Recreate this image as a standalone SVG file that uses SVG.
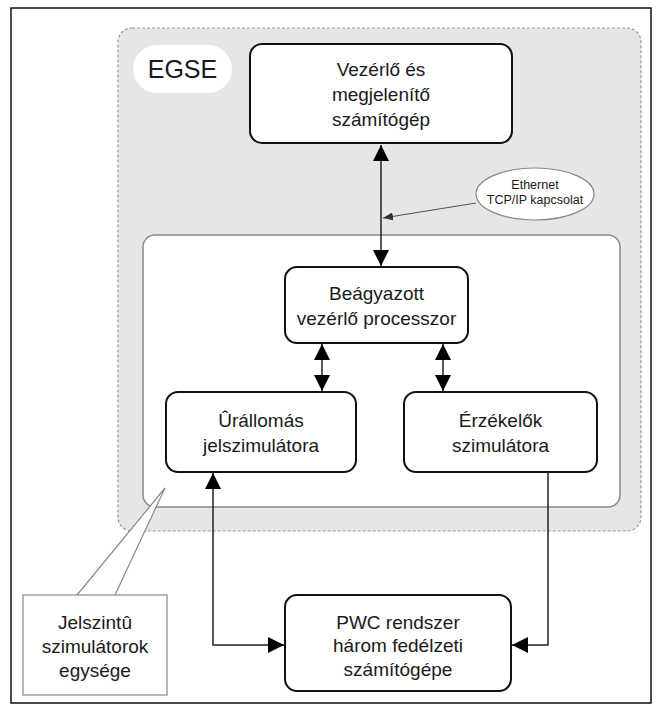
<svg xmlns="http://www.w3.org/2000/svg" width="659" height="711" viewBox="0 0 659 711">
<defs>
<style>
.t{font-family:"Liberation Sans",Arial,sans-serif;font-size:19px;fill:#1a1a1a;text-anchor:middle}
.s{font-family:"Liberation Sans",Arial,sans-serif;font-size:12.5px;fill:#1a1a1a;text-anchor:middle}
.box{fill:#fff;stroke:#111;stroke-width:2}
.con{fill:none;stroke:#222;stroke-width:1.5}
</style>
<marker id="ah" viewBox="0 0 16 16" refX="16" refY="8" markerWidth="16" markerHeight="16" markerUnits="userSpaceOnUse" orient="auto-start-reverse">
<path d="M0,0 L16,8 L0,16 Z" fill="#000"/>
</marker>
<marker id="sm" viewBox="0 0 10 8" refX="10" refY="4" markerWidth="10" markerHeight="8" markerUnits="userSpaceOnUse" orient="auto">
<path d="M0,0 L10,4 L0,8 Z" fill="#333"/>
</marker>
</defs>
<rect x="0" y="0" width="659" height="711" fill="#fff"/>
<rect x="11" y="8" width="640" height="695" fill="#fff" stroke="#111" stroke-width="1.5"/>

<g id="egse">
<rect x="118" y="28" width="523" height="503" rx="14" fill="#e6e6e6" stroke="#999" stroke-width="1.2" stroke-dasharray="3,2"/>
<rect x="133" y="45" width="99" height="48" rx="24" fill="#fff"/>
<text x="182.5" y="78" class="t" style="font-size:25px">EGSE</text>
</g>

<g id="sim-unit">
<rect x="143" y="235" width="477" height="272" rx="12" fill="#fff" stroke="#888" stroke-width="1.5"/>
</g>

<g id="callout">
<path d="M77,595 L165,488 L115,595" fill="#fff" stroke="#888" stroke-width="1.2"/>
<rect x="23" y="595" width="144" height="100" fill="#fff" stroke="#888" stroke-width="1.2"/>
<text class="t"><tspan x="95" y="629">Jelszintû</tspan><tspan x="95" y="653">szimulátorok</tspan><tspan x="95" y="677">egysége</tspan></text>
</g>

<g id="vezerlo">
<rect class="box" x="250" y="44" width="262" height="99" rx="12"/>
<text class="t"><tspan x="381" y="76">Vezérlő és</tspan><tspan x="381" y="101">megjelenítő</tspan><tspan x="381" y="126">számítógép</tspan></text>
</g>

<g id="ethernet">
<ellipse cx="535" cy="194" rx="59" ry="26" fill="#fff" stroke="#888" stroke-width="1.2"/>
<text class="s"><tspan x="535" y="189">Ethernet</tspan><tspan x="535" y="204">TCP/IP kapcsolat</tspan></text>
</g>

<g id="beagyazott">
<rect class="box" x="285" y="267" width="183" height="76" rx="12"/>
<text class="t"><tspan x="376.5" y="300">Beágyazott</tspan><tspan x="376.5" y="325">vezérlő processzor</tspan></text>
</g>

<g id="urallomas">
<rect class="box" x="166" y="392" width="190" height="80" rx="12"/>
<text class="t"><tspan x="261" y="427">Ûrállomás</tspan><tspan x="261" y="452">jelszimulátora</tspan></text>
</g>

<g id="erzekelok">
<rect class="box" x="404" y="392" width="193" height="80" rx="12"/>
<text class="t"><tspan x="500.5" y="427">Érzékelők</tspan><tspan x="500.5" y="452">szimulátora</tspan></text>
</g>

<g id="pwc">
<rect class="box" x="285" y="595" width="226" height="96" rx="12"/>
<text class="t"><tspan x="398" y="629">PWC rendszer</tspan><tspan x="398" y="652">három fedélzeti</tspan><tspan x="398" y="676">számítógépe</tspan></text>
</g>

<g id="connectors">
<path class="con" d="M381,145 L381,266" marker-start="url(#ah)" marker-end="url(#ah)"/>
<path d="M476,203 L383,218" fill="none" stroke="#555" stroke-width="1.2" marker-end="url(#sm)"/>
<path class="con" d="M322,344 L322,391" marker-start="url(#ah)" marker-end="url(#ah)"/>
<path class="con" d="M443,344 L443,391" marker-start="url(#ah)" marker-end="url(#ah)"/>
<path class="con" d="M213,473 L213,645 L284,645" marker-start="url(#ah)" marker-end="url(#ah)"/>
<path class="con" d="M548,472 L548,645 L512,645" marker-end="url(#ah)"/>
</g>
</svg>
